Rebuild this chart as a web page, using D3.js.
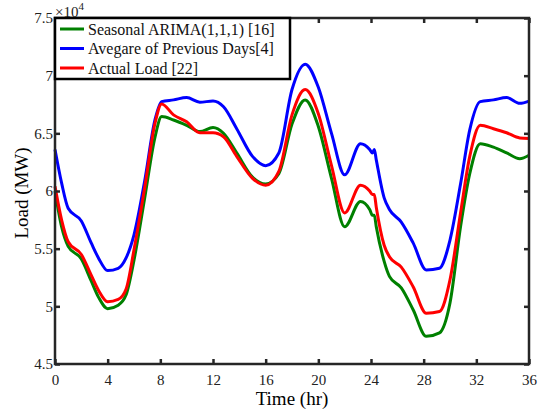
<!DOCTYPE html>
<html>
<head>
<meta charset="utf-8">
<script src="https://cdn.jsdelivr.net/npm/d3@7"></script>
<style>
  body { margin: 0; background: #fff; }
  svg { display: block; }
  svg text { font-family: "Liberation Serif", "Times New Roman", "DejaVu Serif", serif; }
</style>
</head>
<body>
<svg id="chart"></svg>
<script>
// time (hr)
const hours = [0, 0.5, 1, 2, 2.75, 3.3, 4, 4.8, 5.4, 6, 6.8, 7.6, 8.1, 9, 10, 11, 12, 12.8, 13.8, 15, 16, 17, 18, 19, 20, 21, 22, 23.2, 23.9, 24.1, 24.25, 24.4, 25, 25.4, 26.3, 27.2, 28.2, 29.2, 30, 30.8, 31.5, 32.3, 33.3, 34.3, 35.3, 36];

// load (MW)
const arimaLoad = [60000, 56900, 55200, 54100, 52200, 50800, 49800, 50100, 51000, 54000, 59300, 64700, 66450, 66160, 65700, 65150, 65500, 65000, 63300, 61200, 60600, 61500, 65800, 67900, 65600, 61100, 56900, 59100, 58400, 57900, 57900, 56900, 53900, 52600, 51600, 49700, 47400, 47700, 50300, 56900, 61500, 64100, 63800, 63300, 62800, 63100];
const avgPrevLoad = [63600, 60700, 58500, 57400, 55500, 54200, 53100, 53300, 54200, 56200, 60800, 66200, 67750, 67900, 68100, 67700, 67800, 67300, 65400, 63000, 62200, 63300, 68800, 71000, 69000, 65000, 61400, 64100, 63600, 63300, 63600, 62700, 59400, 58400, 57300, 55500, 53150, 53300, 55750, 60600, 65300, 67750, 67900, 68100, 67600, 67800];
const actualLoad = [60400, 57500, 55600, 54500, 52700, 51400, 50400, 50600, 51500, 54900, 60200, 65900, 67550, 66600, 66000, 65050, 65050, 64700, 63000, 61100, 60500, 61700, 66600, 68800, 66700, 62200, 58100, 60500, 60000, 59700, 59700, 58600, 55300, 54300, 53400, 51700, 49400, 49550, 52300, 58100, 63000, 65700, 65400, 65050, 64600, 64550];

const seriesNames = ["Seasonal ARIMA(1,1,1) [16]", "Avegare of Previous Days[4]", "Actual Load [22]"];
const seriesColors = ["#008000", "#0000ff", "#ff0000"];
const xTicks = [0, 4, 8, 12, 16, 20, 24, 28, 32, 36];
const yTicks = [45000, 50000, 55000, 60000, 65000, 70000, 75000];

const width = 551, height = 414;
const plotL = 55, plotR = 529, plotT = 18, plotB = 364;
const serif = "'Liberation Serif', 'Times New Roman', serif";

const svg = d3.select("#chart").attr("width", width).attr("height", height);

const x = d3.scaleLinear().domain([0, 36]).range([plotL, plotR]);
const y = d3.scaleLinear().domain([45000, 75000]).range([plotB, plotT]);

const series = [arimaLoad, avgPrevLoad, actualLoad];

const line = d3.line()
  .x((d, i) => x(hours[i]))
  .y(d => y(d))
  .curve(d3.curveMonotoneX);

svg.append("g")
  .selectAll("path")
  .data(series)
  .join("path")
  .attr("d", d => line(d))
  .attr("fill", "none")
  .attr("stroke", (d, i) => seriesColors[i])
  .attr("stroke-width", 3)
  .attr("stroke-linejoin", "round");

const axisColor = "#262626";
const tickLen = 5;

// axes with inward ticks
const xAxisB = svg.append("g").attr("transform", `translate(0,${plotB})`)
  .call(d3.axisBottom(x).tickValues(xTicks).tickSizeInner(-tickLen).tickSizeOuter(0).tickPadding(10));
const xAxisT = svg.append("g").attr("transform", `translate(0,${plotT})`)
  .call(d3.axisTop(x).tickValues(xTicks).tickSizeInner(-tickLen).tickSizeOuter(0).tickFormat(""));
const yAxisL = svg.append("g").attr("transform", `translate(${plotL},0)`)
  .call(d3.axisLeft(y).tickValues(yTicks).tickSizeInner(-tickLen).tickSizeOuter(0).tickPadding(7)
    .tickFormat(d => d3.format("")(d / 10000)));
const yAxisR = svg.append("g").attr("transform", `translate(${plotR},0)`)
  .call(d3.axisRight(y).tickValues(yTicks).tickSizeInner(-tickLen).tickSizeOuter(0).tickFormat(""));

[xAxisB, xAxisT, yAxisL, yAxisR].forEach(g => {
  g.attr("font-family", serif).attr("font-size", 15);
  g.select(".domain").remove();
  g.selectAll(".tick line").attr("stroke", axisColor).attr("stroke-width", 2.5);
  g.selectAll(".tick text").attr("fill", "#222");
});
yAxisL.selectAll(".tick text").attr("dx", 5);

svg.append("rect")
  .attr("x", plotL).attr("y", plotT)
  .attr("width", plotR - plotL).attr("height", plotB - plotT)
  .attr("fill", "none").attr("stroke", axisColor).attr("stroke-width", 2.5);

// exponent
const expo = svg.append("text").attr("x", 55).attr("y", 17).attr("fill", "#222")
  .attr("font-family", serif).attr("font-size", 15);
expo.append("tspan").text("\u00d710");
expo.append("tspan").attr("dy", -7).attr("font-size", 11).text("4");

// axis labels
svg.append("text").attr("x", (plotL + plotR) / 2).attr("y", 405)
  .attr("text-anchor", "middle").attr("font-family", serif).attr("font-size", 19).text("Time (hr)");
svg.append("text").attr("transform", `translate(28,${(plotT + plotB) / 2 + 2}) rotate(-90)`)
  .attr("text-anchor", "middle").attr("font-family", serif).attr("font-size", 19).text("Load (MW)");

// legend
const legend = svg.append("g");
legend.append("rect").attr("x", plotL).attr("y", plotT).attr("width", 235).attr("height", 61)
  .attr("fill", "#fff").attr("stroke", "#000").attr("stroke-width", 2.5);
seriesNames.forEach((name, i) => {
  const ly = 29 + i * 19.5;
  legend.append("line").attr("x1", 60).attr("x2", 84).attr("y1", ly).attr("y2", ly)
    .attr("stroke", seriesColors[i]).attr("stroke-width", 3);
  legend.append("text").attr("x", 88).attr("y", ly + 5.5).attr("font-family", serif)
    .attr("font-size", 16).attr("fill", "#111").text(name);
});
</script>
</body>
</html>
